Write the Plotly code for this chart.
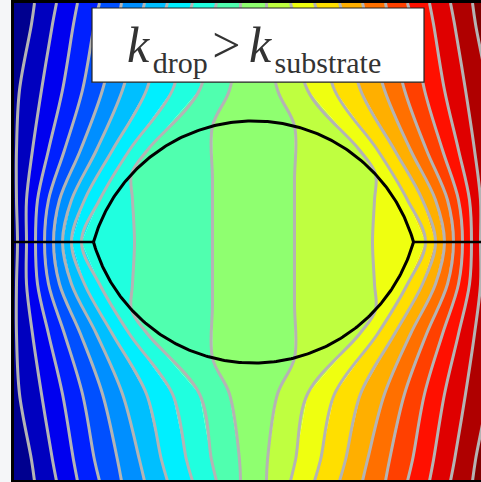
import numpy as np
import plotly.graph_objects as go

# ---------------- data ----------------
# Domain units: drop centred at (0, 0); box spans x -239.5..239.5, y -238..239.
# Isotherms of the left half, top half only (the field is antisymmetric left/right,
# T(-x) = 1 - T(x), and symmetric top/bottom). Line i sits at T = i / 21.
ROWS_OUTER = [239, 218, 152, 92, 42, 0]
LINE1_X = [-219, -222, -234, -237, -237, -236]
LINE2_X = [-197, -201, -212, -221, -227, -227]
LINE3_X = [-176, -180, -191, -205, -216, -218]
LINE4_X = [-154, -159, -171, -189, -205, -209]
LINE5_X = [-132, -136, -151, -173, -194, -200]
LINE6_X = [-109, -114, -131, -157, -182, -191]
LINE7_X = [-86, -92, -107, -141, -169, -182]
LINE8_X = [-61, -67, -81, -124, -154, -172]

LINE9_Y = [239, 218, 152, 92, 68, 42, 0]
LINE9_X = [-37, -42, -54, -106, -122, -121, -119]

LINE10_Y = [239, 218, 152, 116, 62, 0]
LINE10_X = [-13, -14, -24, -41, -41, -41]

N_BANDS = 21
DROP_HALF_WIDTH = 160
DROP_HALF_HEIGHT = 121
X_RANGE = [-239.5, 227.5]
Y_RANGE = [-238, 239]

# ---------------- build full isotherms ----------------
left_lines = [
    (ROWS_OUTER, LINE1_X), (ROWS_OUTER, LINE2_X), (ROWS_OUTER, LINE3_X),
    (ROWS_OUTER, LINE4_X), (ROWS_OUTER, LINE5_X), (ROWS_OUTER, LINE6_X),
    (ROWS_OUTER, LINE7_X), (ROWS_OUTER, LINE8_X), (LINE9_Y, LINE9_X),
    (LINE10_Y, LINE10_X),
]


def full_line(ys, xs):
    ys = list(ys)
    xs = list(xs)
    Y = ys + [-v for v in reversed(ys[:-1])]
    X = xs + list(reversed(xs[:-1]))
    return np.array(X, float), np.array(Y, float)


lines = []
for ys, xs in left_lines:
    lines.append(full_line(ys, xs))
for ys, xs in reversed(left_lines):
    X, Y = full_line(ys, xs)
    lines.append((-X, Y))


def jet64(i):
    n = 16
    u = [j / n for j in range(1, n + 1)] + [1.0] * (n - 1) + [j / n for j in range(n, 0, -1)]

    def uu(j):
        return u[j - 1] if 1 <= j <= len(u) else 0.0

    r, g, b = uu(i - 24), uu(i - 8), uu(i + 8)
    return f"rgb({round(255*r)},{round(255*g)},{round(255*b)})"


band_colors = []
for k in range(N_BANDS):
    idx = min(64, int(np.floor(k / (N_BANDS - 1) * 64)) + 1)
    band_colors.append(jet64(idx))

fig = go.Figure()

edge_left = (np.array([X_RANGE[0] - 5, X_RANGE[0] - 5]), np.array([Y_RANGE[1] + 5, Y_RANGE[0] - 5]))
edge_right = (np.array([245.0, 245.0]), np.array([Y_RANGE[1] + 5, Y_RANGE[0] - 5]))
bounds = [edge_left] + lines + [edge_right]

for k in range(N_BANDS):
    lx, ly = bounds[k]
    rx, ry = bounds[k + 1]
    px = np.concatenate([lx, rx[::-1]])
    py = np.concatenate([ly, ry[::-1]])
    fig.add_trace(go.Scatter(x=px, y=py, mode="lines", fill="toself",
                             fillcolor=band_colors[k], line=dict(width=0),
                             hoverinfo="skip", showlegend=False))

for X, Y in lines:
    fig.add_trace(go.Scatter(x=X, y=Y, mode="lines",
                             line=dict(color="#b4b4b4", width=3, shape="spline", smoothing=1.0),
                             hoverinfo="skip", showlegend=False))

a, h = DROP_HALF_WIDTH, DROP_HALF_HEIGHT
R = (a * a + h * h) / (2 * h)
c = h - R
th0 = np.arcsin(a / R)
t = np.linspace(-th0, th0, 200)
top_x = R * np.sin(t)
top_y = c + R * np.cos(t)
fig.add_trace(go.Scatter(x=np.concatenate([top_x, top_x[::-1]]),
                         y=np.concatenate([top_y, -top_y[::-1]]),
                         mode="lines", line=dict(color="black", width=3),
                         hoverinfo="skip", showlegend=False))
for xs in ([X_RANGE[0], -a], [a, 245]):
    fig.add_trace(go.Scatter(x=xs, y=[0, 0], mode="lines",
                             line=dict(color="black", width=2.5),
                             hoverinfo="skip", showlegend=False))

fig.add_shape(type="rect", xref="paper", yref="paper",
              x0=0.167, x1=0.878, y0=0.834, y1=0.9895,
              fillcolor="white", line=dict(color="#222", width=1.2))
SUB = "<span style='font-size:30px'>{}</span>"
GAP = "<span style='font-size:{}px'> </span>"
fig.add_annotation(
    xref="paper", yref="paper", x=0.514, y=0.905, xanchor="center", yanchor="middle",
    showarrow=False,
    text=("<i>k</i>" + GAP.format(14) + "<sub>" + SUB.format("drop") + "</sub>"
          + GAP.format(18) + "&gt;" + GAP.format(34) + "<i>k</i>" + GAP.format(14)
          + "<sub>" + SUB.format("substrate") + "</sub>"),
    font=dict(family="Liberation Serif", size=50, color="#333333"),
)

fig.update_xaxes(range=X_RANGE, showgrid=False, zeroline=False, showticklabels=False,
                 ticks="", showline=True, linecolor="black", linewidth=3, mirror=True)
fig.update_yaxes(range=Y_RANGE, showgrid=False, zeroline=False, showticklabels=False,
                 ticks="", showline=True, linecolor="black", linewidth=3, mirror=False)
fig.update_layout(width=481, height=482, margin=dict(l=14, r=0, t=3, b=2),
                  paper_bgcolor="#f5f6f8", plot_bgcolor="white")

fig.write_html("out.html", config={"displayModeBar": False},
               post_script="document.body.style.margin='0';document.body.style.overflow='hidden';")
